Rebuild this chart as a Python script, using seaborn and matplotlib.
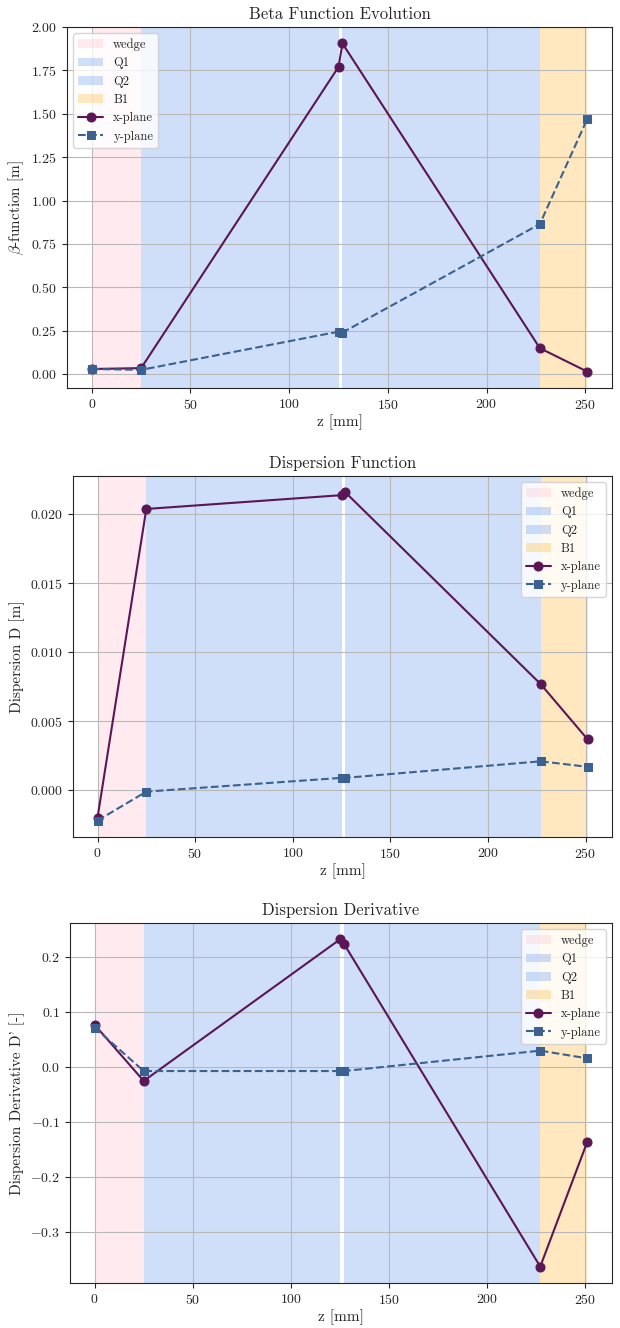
import matplotlib
matplotlib.use("Agg")
import matplotlib.pyplot as plt
import seaborn as sns

# element positions along the beamline (mm)
z_mm = [0, 25, 125, 127, 227, 251]

beta_x = [0.030, 0.035, 1.770, 1.905, 0.150, 0.015]
beta_y = [0.030, 0.025, 0.245, 0.240, 0.865, 1.470]

disp_x = [-0.0020, 0.0204, 0.0214, 0.0216, 0.0077, 0.0037]
disp_y = [-0.0022, -0.0001, 0.0009, 0.0009, 0.0021, 0.0017]

dprime_x = [0.077, -0.025, 0.232, 0.224, -0.362, -0.135]
dprime_y = [0.072, -0.007, -0.007, -0.007, 0.030, 0.016]

# element regions: name, start, end, colour
elements = [
    ("wedge", 0, 25, "pink"),
    ("Q1", 25, 125, "cornflowerblue"),
    ("Q2", 127, 227, "cornflowerblue"),
    ("B1", 227, 251, "orange"),
]

sns.set_style("whitegrid", {"axes.edgecolor": ".15", "xtick.bottom": True,
                            "ytick.left": True, "grid.color": ".72"})
plt.rcParams["font.family"] = "serif"
plt.rcParams["font.serif"] = ["cmr10", "DejaVu Serif"]
plt.rcParams["mathtext.fontset"] = "cm"
plt.rcParams["axes.formatter.use_mathtext"] = True
plt.rcParams["axes.unicode_minus"] = True
plt.rcParams["axes.axisbelow"] = "line"

col_x = "#5a1655"
col_y = "#3b6190"

panels = [
    (beta_x, beta_y, "Beta Function Evolution", r"$\beta$-function [m]", "upper left"),
    (disp_x, disp_y, "Dispersion Function", "Dispersion D [m]", "upper right"),
    (dprime_x, dprime_y, "Dispersion Derivative", "Dispersion Derivative D' [-]", "upper right"),
]

W, H = 620, 1328
fig, axes = plt.subplots(3, 1, figsize=(W / 100, H / 100), dpi=100)

# axes boxes in pixels: left, top, right, bottom
boxes = [(67, 27, 612, 388), (73, 476, 612, 837), (70, 923, 612, 1283)]

for ax, box, (yx, yy, title, ylabel, loc) in zip(axes, boxes, panels):
    for name, a, b, c in elements:
        alpha = 0.3 if name != "B1" else 0.25
        ax.axvspan(a, b, color=c, alpha=alpha, label=name, lw=0)
    sns.lineplot(x=z_mm, y=yx, ax=ax, color=col_x, marker="o", markersize=6.5,
                 markeredgecolor=col_x, label="x-plane", lw=1.5)
    sns.lineplot(x=z_mm, y=yy, ax=ax, color=col_y, marker="s", markersize=6,
                 markeredgecolor=col_y, linestyle="--", label="y-plane", lw=1.5)
    ax.set_title(title, fontsize=12)
    ax.set_xlabel("z [mm]", fontsize=11, labelpad=2)
    ax.set_ylabel(ylabel, fontsize=11)
    ax.tick_params(labelsize=10)
    ax.legend(loc=loc, fontsize=9)
    l, t, r, b = box
    ax.set_position([l / W, 1 - b / H, (r - l) / W, (b - t) / H])

axes[0].set_yticks([0, 0.25, 0.5, 0.75, 1.0, 1.25, 1.5, 1.75, 2.0])

fig.savefig("out.png", dpi=100)
